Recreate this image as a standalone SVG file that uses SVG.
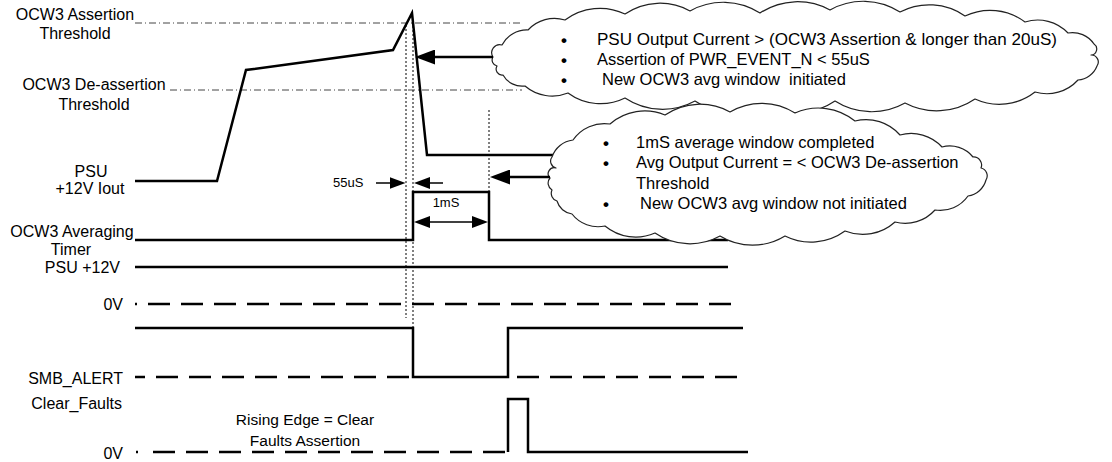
<svg xmlns="http://www.w3.org/2000/svg" width="1112" height="462" viewBox="0 0 1112 462">
<style>
text { font-family: "Liberation Sans", Arial, sans-serif; fill: #000; }
.lbl { font-size: 16px; }
.mid { text-anchor: middle; }
.end { text-anchor: end; }
.ctx { font-size: 16.5px; white-space: pre; }
.bul { font-size: 17px; font-weight: bold; }
.sm { font-size: 13px; }
.cap { font-size: 15.5px; }
.wave { fill: none; stroke: #000; stroke-width: 2.5; stroke-linejoin: miter; }
.dash { fill: none; stroke: #000; stroke-width: 2.5; stroke-dasharray: 22 11; }
.thr { fill: none; stroke: #444; stroke-width: 1; stroke-dasharray: 7 3 1 3; }
.dot { fill: none; stroke: #000; stroke-width: 1; stroke-dasharray: 2 2; }
.cloud { fill: #fff; stroke: #222; stroke-width: 1.2; stroke-linejoin: round; }
.arr { fill: none; stroke: #000; stroke-width: 2.5; }
.sarr { fill: none; stroke: #000; stroke-width: 1.5; }
</style>
<defs>
<marker id="bigHead" markerWidth="20" markerHeight="15" refX="10" refY="7.5" orient="auto" markerUnits="userSpaceOnUse">
<path d="M0,0 L20,7.5 L0,15 Z" fill="#000"/>
</marker>
<marker id="smHead" markerWidth="16" markerHeight="12" refX="8" refY="6" orient="auto-start-reverse" markerUnits="userSpaceOnUse">
<path d="M0,0 L16,6 L0,12 Z" fill="#000"/>
</marker>
</defs>

<g id="thresholds">
<path class="thr" d="M135,23 L522,23"/>
<path class="thr" d="M170,90 L522,90"/>
</g>

<g id="labels">
<text class="lbl mid" x="75" y="20">OCW3 Assertion</text>
<text class="lbl mid" x="75" y="39">Threshold</text>
<text class="lbl mid" x="94" y="90">OCW3 De-assertion</text>
<text class="lbl mid" x="94" y="110">Threshold</text>
<text class="lbl mid" x="91" y="177">PSU</text>
<text class="lbl mid" x="90" y="194">+12V Iout</text>
<text class="lbl mid" x="72" y="237">OCW3 Averaging</text>
<text class="lbl mid" x="71" y="255">Timer</text>
<text class="lbl end" x="120" y="273">PSU +12V</text>
<text class="lbl end" x="123" y="310">0V</text>
<text class="lbl end" x="123" y="384">SMB_ALERT</text>
<text class="lbl end" x="122" y="409">Clear_Faults</text>
<text class="lbl end" x="123" y="459">0V</text>
</g>

<g id="sig-iout">
<path class="wave" d="M135,181 L217,181 L246,70 L393,50 L412,13 L427,155 L565,155"/>
</g>
<g id="sig-timer">
<path class="wave" d="M135,240 L413,240 L413,192 L489,192 L489,240 L728,240"/>
</g>
<g id="sig-psu12">
<path class="wave" d="M135,267 L728,267"/>
<path class="dash" stroke-dashoffset="20" d="M135,304 L740,304"/>
</g>
<g id="sig-smb">
<path class="wave" d="M135,328 L413,328 L413,377 L508,377 L508,328 L743,328"/>
<path class="dash" stroke-dashoffset="12" d="M135,377 L413,377"/>
<path class="dash" d="M517,377 L740,377"/>
</g>
<g id="sig-clear">
<path class="wave" d="M136,452 L138,452"/>
<path class="dash" d="M153,452 L508,452"/>
<path class="wave" d="M508,452 L508,399 L528,399 L528,452 L748,452"/>
</g>

<g id="markers-dotted">
<path class="dot" d="M406,25 L406,318"/>
<path class="dot" d="M413,22 L413,328"/>
<path class="dot" d="M489,110 L489,192"/>
</g>

<g id="cloud1">
<path class="cloud" d="M493,57 A8,8 0 0 1 502,45 A28,28 0 0 1 528,30 A36,36 0 0 1 565,20 A58,58 0 0 1 625,14 A62,62 0 0 1 690,11 A68,68 0 0 1 760,13 A68,68 0 0 1 830,10 A68,68 0 0 1 900,12 A63,63 0 0 1 965,16 A58,58 0 0 1 1025,22 A42,42 0 0 1 1068,33 A26,26 0 0 1 1094,44 A6,6 0 0 1 1091,55 A7,7 0 0 1 1097,66 A22,22 0 0 1 1078,80 A42,42 0 0 1 1035,92 A58,58 0 0 1 975,99 A68,68 0 0 1 905,103 A68,68 0 0 1 835,101 A68,68 0 0 1 765,105 A68,68 0 0 1 695,101 A68,68 0 0 1 625,98 A55,55 0 0 1 568,93 A42,42 0 0 1 525,86 A22,22 0 0 1 503,75 A6,6 0 0 1 497,66 A6,6 0 0 1 493,57 Z"/>
<text class="bul" x="561" y="46">•</text>
<text class="bul" x="561" y="66">•</text>
<text class="bul" x="561" y="86">•</text>
<text class="ctx" x="597" y="45" textLength="460" lengthAdjust="spacingAndGlyphs">PSU Output Current &gt; (OCW3 Assertion &amp; longer than 20uS)</text>
<text class="ctx" x="597" y="65">Assertion of PWR_EVENT_N &lt; 55uS</text>
<text class="ctx" x="602" y="85">New OCW3 avg window  initiated</text>
</g>

<g id="cloud2">
<path class="cloud" d="M550,178 A6,6 0 0 1 556,168 A7,7 0 0 1 552,157 A25,25 0 0 1 573,140 A38,38 0 0 1 610,124 A53,53 0 0 1 665,115 A62,62 0 0 1 730,112 A62,62 0 0 1 795,113 A58,58 0 0 1 855,121 A45,45 0 0 1 900,135 A42,42 0 0 1 942,147 A30,30 0 0 1 973,157 A8,8 0 0 1 981,168 A8,8 0 0 1 986,180 A22,22 0 0 1 968,196 A34,34 0 0 1 935,210 A40,40 0 0 1 895,222 A48,48 0 0 1 845,231 A58,58 0 0 1 785,236 A62,62 0 0 1 720,236 A62,62 0 0 1 655,233 A48,48 0 0 1 605,226 A33,33 0 0 1 572,214 A18,18 0 0 1 557,201 A8,8 0 0 1 552,190 A8,8 0 0 1 550,178 Z"/>
<text class="bul" x="603" y="149">•</text>
<text class="bul" x="603" y="169">•</text>
<text class="bul" x="603" y="210">•</text>
<text class="ctx" x="636" y="148">1mS average window completed</text>
<text class="ctx" x="636" y="168">Avg Output Current = &lt; OCW3 De-assertion</text>
<text class="ctx" x="636" y="189">Threshold</text>
<text class="ctx" x="640" y="209">New OCW3 avg window not initiated</text>
</g>

<g id="connectors">
<path class="arr" marker-end="url(#bigHead)" d="M493,57 L425,57"/>
<path class="arr" marker-end="url(#bigHead)" d="M550,177 L500,177"/>
<path class="sarr" marker-end="url(#smHead)" d="M376,183 L397.5,183"/>
<path class="sarr" marker-end="url(#smHead)" d="M443,183 L422,183"/>
<path class="sarr" marker-start="url(#smHead)" marker-end="url(#smHead)" d="M422,222 L480,222"/>
</g>

<g id="annotations">
<text class="sm" x="333" y="187">55uS</text>
<text class="sm mid" x="446" y="207">1mS</text>
<text class="cap mid" x="305" y="425">Rising Edge = Clear</text>
<text class="cap mid" x="305" y="446">Faults Assertion</text>
</g>
</svg>
